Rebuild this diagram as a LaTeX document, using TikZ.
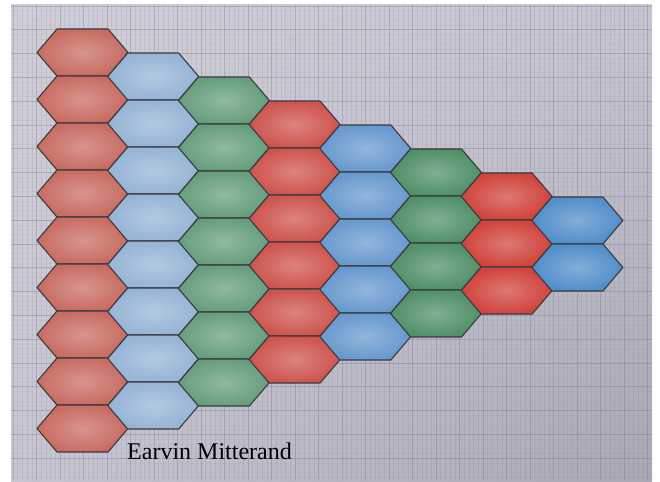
\documentclass[tikz,border=0pt]{standalone}
\usepackage{fontspec}
\setmainfont{Liberation Serif}
\usetikzlibrary{shadings}
\definecolor{redA}{RGB}{200,108,98}
\definecolor{blueA}{RGB}{150,180,213}
\definecolor{greenA}{RGB}{102,158,125}
\definecolor{redB}{RGB}{206,84,78}
\definecolor{blueB}{RGB}{104,153,206}
\definecolor{greenB}{RGB}{80,144,104}
\definecolor{redC}{RGB}{208,68,60}
\definecolor{blueC}{RGB}{82,142,202}
\definecolor{edgeC}{RGB}{58,58,64}
\definecolor{gridC}{RGB}{112,110,126}
\definecolor{paperUL}{RGB}{208,207,217}
\definecolor{paperUR}{RGB}{198,197,209}
\definecolor{paperLL}{RGB}{200,198,210}
\definecolor{paperLR}{RGB}{170,168,182}
\newcommand\hexcellat[3]{%
  \shade[inner color=#3!72!white, outer color=#3]
    (#1,#2+23.5) -- ++(20,-23.5) -- ++(51,0) -- ++(20,23.5) -- ++(-20,23.5) -- ++(-51,0) -- cycle;
  \draw[hexcell]
    (#1,#2+23.5) -- ++(20,-23.5) -- ++(51,0) -- ++(20,23.5) -- ++(-20,23.5) -- ++(-51,0) -- cycle;}
\begin{document}
\begin{tikzpicture}[x=1pt,y=-1pt,
  hexcell/.style={draw=edgeC, line width=1.1pt, line join=round},
  minorline/.style={draw=gridC, line width=0.6pt, opacity=0.14},
  majorline/.style={draw=gridC, line width=0.9pt, opacity=0.3}]
\useasboundingbox (0,0) rectangle (660,481);
\fill[white] (0,0) rectangle (660,481);
\shade[upper left=paperUL, upper right=paperUR, lower left=paperLL, lower right=paperLR] (11,5) rectangle (652,481);
\begin{scope}
\clip (11,5) rectangle (652,481);
\foreach \gx in {13,17.7,...,652} {\draw[minorline] (\gx,5) -- (\gx,481);}
\foreach \gx in {13,36.5,...,652} {\draw[majorline, opacity=0.22] (\gx,5) -- (\gx,481);}
\foreach \gy in {6,10.76,...,481} {\draw[minorline, opacity=0.05] (11,\gy) -- (652,\gy);}
\foreach \gy in {6,29.8,...,481} {\draw[majorline] (11,\gy) -- (652,\gy);}
\end{scope}
\foreach \k/\c in {0/redA,1/blueA,2/greenA,3/redB,4/blueB,5/greenB,6/redC,7/blueC} {
  \pgfmathtruncatemacro\n{8-\k}
  \pgfmathsetmacro\xo{37+70.7*\k}
  \foreach \j in {0,...,\n} {
    \pgfmathsetmacro\yo{29+24*\k+47*\j}
    \hexcellat{\xo}{\yo}{\c}
  }
}
\node[anchor=base west, inner sep=0pt, font=\fontsize{24}{28}\selectfont] (sig) at (127,459) {Earvin Mitterand};
\end{tikzpicture}
\end{document}
